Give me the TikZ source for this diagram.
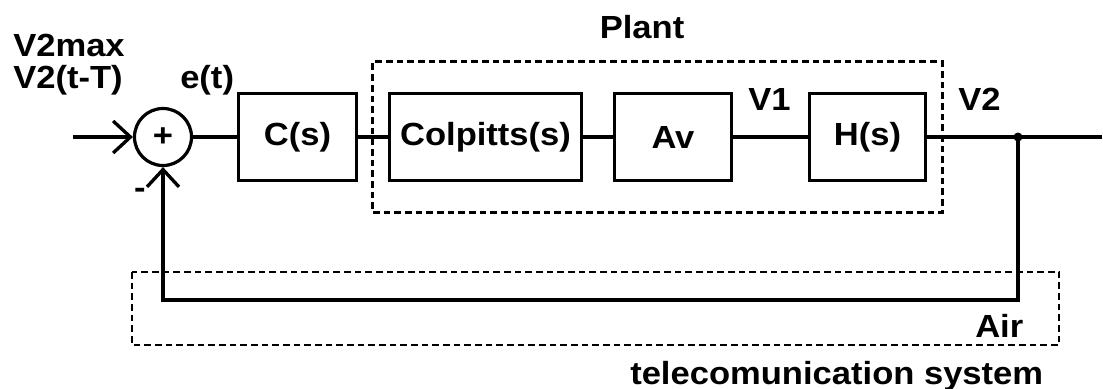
\documentclass[tikz,border=0pt]{standalone}
\usepackage{fontspec}
\setmainfont{Liberation Sans}[FakeStretch=1.08]
\usetikzlibrary{arrows.meta,positioning,fit}
\newlength{\pxunit}
\setlength{\pxunit}{0.75pt}
\newcommand{\lblfont}{\bfseries\fontsize{24}{27}\selectfont}
\tikzset{
  lbl/.style={font=\lblfont,inner sep=0pt},
  block/.style={draw,line width=2.5pt,minimum height=87\pxunit,inner sep=0pt,font=\lblfont},
  sumnode/.style={circle,draw,line width=2.4pt,minimum size=57\pxunit,inner sep=0pt,font=\lblfont},
  groupbox/.style={draw,line width=2.1pt,dash pattern=on 5pt off 3pt},
  sig/.style={line width=2.5pt},
  sigarrow/.style={sig,-{Straight Barb[length=13pt,width=24pt]}}
}
\begin{document}
\begin{tikzpicture}[x=\pxunit,y=-\pxunit]
  \useasboundingbox (0,0) rectangle (1103,389);
  \node[sumnode] (sum) at (163,137) {+};
  \node[block,minimum width=118\pxunit] (ctrl) at (297.5,137) {C(s)};
  \node[block,minimum width=192\pxunit] (colp) at (485.5,137) {Colpitts(s)};
  \node[block,minimum width=117\pxunit] (amp) at (673,137) {Av};
  \node[block,minimum width=116\pxunit] (filt) at (867.5,137) {H(s)};
  \node[groupbox,fit=(colp)(filt),inner xsep=15\pxunit,inner ysep=30\pxunit] (plant) {};
  \draw[groupbox] (132,272) rectangle (1059,345);
  \node[lbl,anchor=base west] (vmax) at (13,56) {V2max};
  \node[lbl,anchor=base west] (vdel) at (13,88) {V2(t-T)};
  \node[lbl,anchor=base west] (err) at (180,88) {e(t)};
  \node[lbl] (neg) at (140,193) {-};
  \node[lbl,anchor=base west] (vone) at (748,110) {V1};
  \node[lbl,anchor=base west] (vtwo) at (958,110) {V2};
  \node[lbl,anchor=base] (plantlbl) at (642,38) {Plant};
  \node[lbl,anchor=base west] (air) at (975,337) {Air};
  \node[lbl,anchor=base west] (tele) at (630,384) {telecomunication system};
  \coordinate (src) at (73,137);
  \coordinate (tap) at (1018,137);
  \coordinate (dst) at (1102,137);
  \coordinate (ret) at (163,300);
  \draw[sigarrow] (src) -- (sum);
  \draw[sig] (sum) -- (ctrl);
  \draw[sig] (ctrl) -- (colp);
  \draw[sig] (colp) -- (amp);
  \draw[sig] (amp) -- (filt);
  \draw[sig] (filt) -- (dst);
  \fill (tap) circle (4.5\pxunit);
  \draw[sigarrow] (tap) |- (ret) -- (sum);
\end{tikzpicture}
\end{document}
